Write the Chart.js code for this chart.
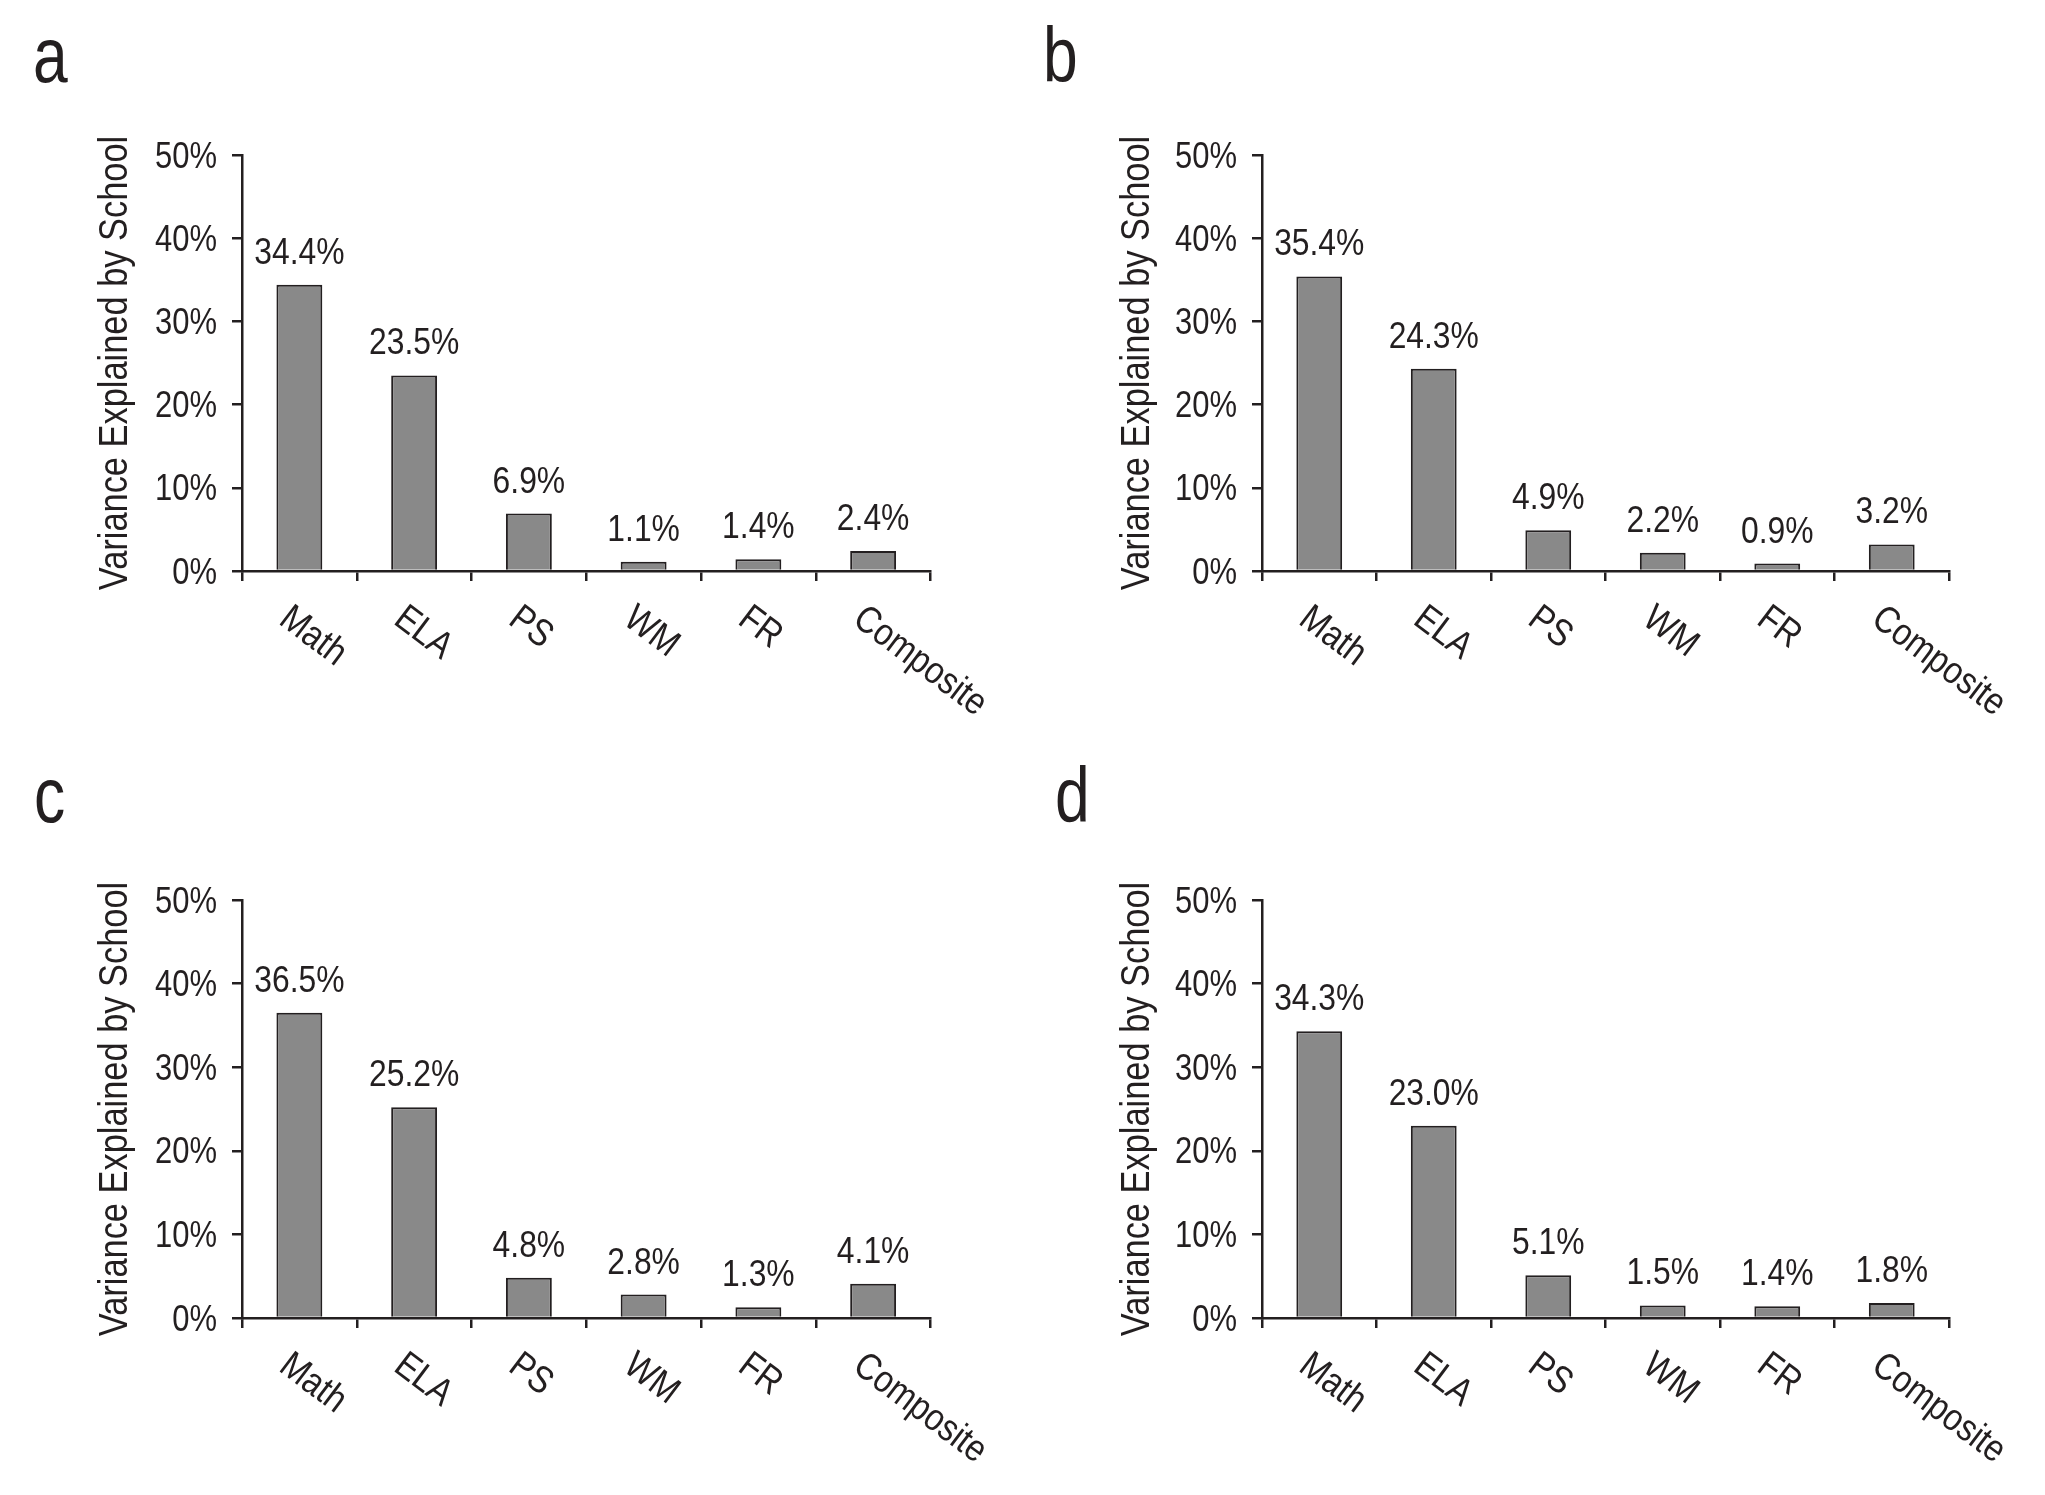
<!DOCTYPE html>
<html>
<head>
<meta charset="utf-8">
<script src="https://cdn.jsdelivr.net/npm/chart.js@4.4.1/dist/chart.umd.min.js"></script>
<style>
  html, body { margin: 0; padding: 0; background: #ffffff; }
  body { width: 2045px; height: 1495px; position: relative; overflow: hidden; }
  .panel { position: absolute; }
</style>
</head>
<body>
<div class="panel" id="pa" style="left:0px;top:0px;width:1022px;height:747px;"><canvas id="ca"></canvas></div>
<div class="panel" id="pb" style="left:1022px;top:0px;width:1023px;height:747px;"><canvas id="cb"></canvas></div>
<div class="panel" id="pc" style="left:0px;top:747px;width:1022px;height:748px;"><canvas id="cc"></canvas></div>
<div class="panel" id="pd" style="left:1022px;top:747px;width:1023px;height:748px;"><canvas id="cd"></canvas></div>
<script>
// ---- data ----
const categories = ['Math', 'ELA', 'PS', 'WM', 'FR', 'Composite'];
const panelLetters = ['a', 'b', 'c', 'd'];
const valuesA = [34.4, 23.5, 6.9, 1.1, 1.4, 2.4];
const valuesB = [35.4, 24.3, 4.9, 2.2, 0.9, 3.2];
const valuesC = [36.5, 25.2, 4.8, 2.8, 1.3, 4.1];
const valuesD = [34.3, 23.0, 5.1, 1.5, 1.4, 1.8];
const yTickValues = [0, 10, 20, 30, 40, 50];
const yTickLabels = ['0%', '10%', '20%', '30%', '40%', '50%'];
const yAxisTitle = 'Variance Explained by School';

// ---- style ----
const FONT = "'Liberation Sans', Arial, sans-serif";
const INK = '#231f20';
const BAR = '#898989';
const SQUEEZE = 0.86;   // horizontal condensing of the text
Chart.defaults.font.family = FONT;
Chart.defaults.color = INK;

// layout per panel (pixels inside each panel box)
const layouts = [
  { axisW: 242, right: 91.5, top: 155, xH: 176, letterX: 33, letterY: 81.5 },
  { axisW: 240, right: 96,   top: 155, xH: 176, letterX: 21, letterY: 81.5 },
  { axisW: 242, right: 91.5, top: 153, xH: 177, letterX: 34, letterY: 75 },
  { axisW: 240, right: 96,   top: 153, xH: 177, letterX: 33, letterY: 75 }
];

function condensedText(ctx, text, x, y, angle, align, sx) {
  ctx.save();
  ctx.translate(x, y);
  if (angle) ctx.rotate(angle);
  ctx.scale(sx, 1);
  ctx.textAlign = align;
  ctx.textBaseline = 'alphabetic';
  ctx.fillText(text, 0, 0);
  ctx.restore();
}

const decorPlugin = {
  id: 'decor',
  afterDraw(chart, args, opts) {
    const ctx = chart.ctx;
    const xs = chart.scales.x;
    const ys = chart.scales.y;
    const area = chart.chartArea;
    ctx.save();
    ctx.fillStyle = INK;

    // y tick labels
    ctx.font = '36px ' + FONT;
    yTickValues.forEach((v, i) => {
      const py = ys.getPixelForValue(v);
      condensedText(ctx, yTickLabels[i], area.left - 25, py + 12.5, 0, 'right', SQUEEZE);
    });

    // y axis title
    ctx.font = '40px ' + FONT;
    condensedText(ctx, yAxisTitle, 127, (area.top + area.bottom) / 2, -Math.PI / 2, 'center', SQUEEZE);

    // value labels above bars
    ctx.font = '37px ' + FONT;
    const meta = chart.getDatasetMeta(0);
    const vals = chart.data.datasets[0].data;
    meta.data.forEach((el, i) => {
      condensedText(ctx, vals[i].toFixed(1) + '%', el.x, el.y - 21, 0, 'center', SQUEEZE);
    });

    // rotated category labels
    ctx.font = '38px ' + FONT;
    const ang = 37 * Math.PI / 180;
    chart.data.labels.forEach((lab, i) => {
      const cx = xs.getPixelForValue(i);
      condensedText(ctx, lab, cx - 22, area.bottom + 52, ang, 'left', SQUEEZE);
    });

    // panel letter
    ctx.font = '78px ' + FONT;
    condensedText(ctx, opts.letter, opts.letterX, opts.letterY, 0, 'left', 0.8);
    ctx.restore();
  }
};

function makeChart(canvasId, values, idx) {
  const L = layouts[idx];
  return new Chart(document.getElementById(canvasId), {
    type: 'bar',
    data: {
      labels: categories,
      datasets: [{
        data: values,
        backgroundColor: BAR,
        borderColor: INK,
        borderWidth: 2,
        borderSkipped: 'start',
        categoryPercentage: 1.0,
        barPercentage: 0.4
      }]
    },
    options: {
      responsive: true,
      maintainAspectRatio: false,
      animation: false,
      events: [],
      layout: { padding: { left: 0, right: L.right, top: L.top, bottom: 0 } },
      plugins: {
        legend: { display: false },
        tooltip: { enabled: false },
        title: { display: false },
        decor: { letter: panelLetters[idx], letterX: L.letterX, letterY: L.letterY }
      },
      scales: {
        x: {
          type: 'category',
          offset: true,
          grid: {
            display: true,
            offset: true,
            drawOnChartArea: false,
            drawTicks: true,
            tickLength: 10,
            color: INK,
            lineWidth: 2.5
          },
          border: { display: true, color: INK, width: 2.5 },
          ticks: { display: false },
          afterFit(scale) { scale.height = L.xH; }
        },
        y: {
          min: 0,
          max: 50,
          afterBuildTicks(scale) { scale.ticks = yTickValues.map(v => ({ value: v })); },
          grid: {
            display: true,
            drawOnChartArea: false,
            drawTicks: true,
            tickLength: 10,
            color: INK,
            lineWidth: 2.5
          },
          border: { display: true, color: INK, width: 2.5 },
          ticks: { display: false },
          title: { display: false },
          afterFit(scale) { scale.width = L.axisW; }
        }
      }
    },
    plugins: [decorPlugin]
  });
}

makeChart('ca', valuesA, 0);
makeChart('cb', valuesB, 1);
makeChart('cc', valuesC, 2);
makeChart('cd', valuesD, 3);
</script>
</body>
</html>
